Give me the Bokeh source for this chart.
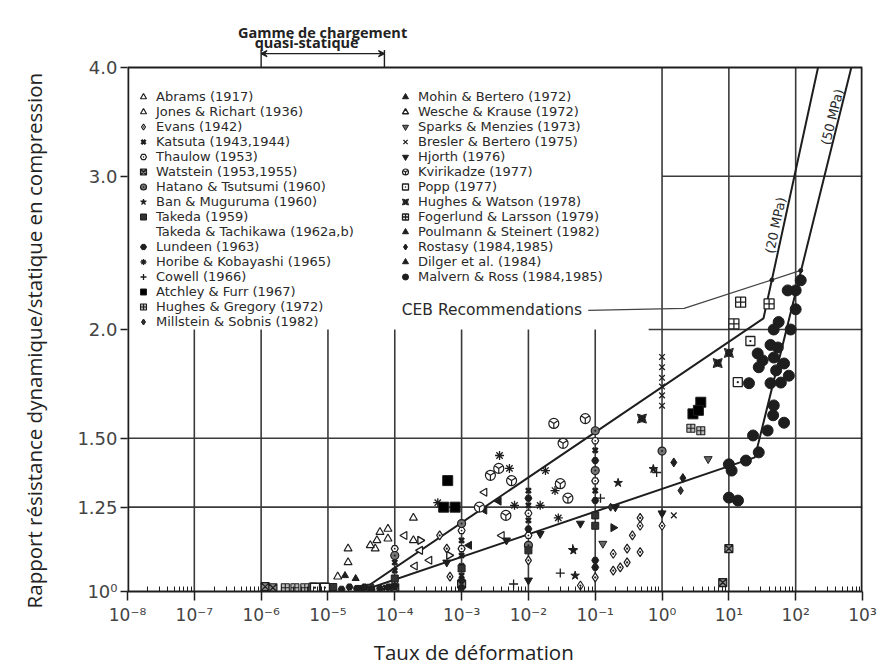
import numpy as np
from bokeh.plotting import figure
from bokeh.models import Range1d, FixedTicker, Legend, LegendItem, Label, Arrow, VeeHead
from bokeh.embed import file_html
from bokeh.resources import INLINE

# ---------------- axes ----------------
x_decades = [1e-8, 1e-7, 1e-6, 1e-5, 1e-4, 1e-3, 1e-2, 1e-1, 1e0, 1e1, 1e2, 1e3]
x_tick_labels = ["10⁻⁸", "10⁻⁷", "10⁻⁶", "10⁻⁵", "10⁻⁴", "10⁻³", "10⁻²", "10⁻¹",
                 "10⁰", "10¹", "10²", "10³"]
y_ticks = [1.0, 1.25, 1.5, 2.0, 3.0, 4.0]
y_tick_labels = ["10⁰", "1.25", "1.50", "2.0", "3.0", "4.0"]

# ---------------- CEB curves ----------------
ceb20_rate = [3e-5, 33.0, 216.0]
ceb20_ratio = [1.0, 2.06, 4.0]
ceb50_rate = [3e-5, 24.5, 680.0]
ceb50_ratio = [1.0, 1.426, 4.0]
leader_rate = [0.0786, 2.14, 119.0]
leader_ratio = [2.104, 2.115, 2.338]
leader_dot_rate = [44.0, 119.0]
leader_dot_ratio = [2.28, 2.338]
quasi_static_range = [1e-6, 7e-5]

# ---------------- experimental data ----------------
abrams_rate = [2.0e-5, 2.0e-5, 1.4e-5, 6.0e-5, 7.9e-5, 7.9e-5, 5.4e-5, 1.9e-4, 1.9e-4, 5.1e-5, 4.3e-5]
abrams_ratio = [1.12, 1.08, 1.04, 1.17, 1.18, 1.15, 1.145, 1.215, 1.145, 1.12, 1.13]
jones_rate = [2.4e-4, 3.3e-4, 2.0e-4, 1.4e-4, 2.2e-3, 4.0e-3]
jones_ratio = [1.115, 1.086, 1.07, 1.16, 1.30, 1.16]
evans_rate = [4.7e-4, 6.0e-4, 6.7e-4, 0.186, 0.237, 0.186, 0.30, 0.30, 0.36, 0.47, 0.47, 0.47,
              1.0e-4, 6.0e-2, 0.1, 1.0, 1.0e-2]
evans_ratio = [1.16, 1.12, 1.04, 1.105, 1.066, 1.057, 1.08, 1.12, 1.16, 1.19, 1.215, 1.11,
               1.025, 1.016, 1.038, 1.19, 1.086]
katsuta_rate = [1e-4, 1e-4, 1e-3, 1e-3, 1e-3, 1e-3, 1e-2, 1e-2, 1e-2, 0.1, 0.1, 7.3e-5]
katsuta_ratio = [1.08, 1.057, 1.145, 1.10, 1.07, 1.043, 1.306, 1.256, 1.207, 1.453, 1.306, 1.01]
thaulow_rate = [1e-3, 1e-3, 1e-2, 1e-2, 1e-4, 0.1, 0.1]
thaulow_ratio = [1.175, 1.12, 1.23, 1.16, 1.12, 1.49, 1.34]
watstein_rate = [1.15e-6, 1.5e-6, 1e-4, 1e-3, 10.0, 8.1]
watstein_ratio = [1.013, 1.01, 1.01, 1.02, 1.12, 1.024]
hatano_rate = [1e-4, 1e-3, 1e-2, 0.1, 0.1, 1.0]
hatano_ratio = [1.10, 1.197, 1.13, 1.377, 1.53, 1.45]
ban_rate = [0.22, 4.7e-2, 0.74, 5e-2]
ban_ratio = [1.333, 1.115, 1.383, 1.043]
takeda_rate = [1e-4, 1e-3, 1e-2, 0.1, 0.1, 4.3e-5, 1.2e-5]
takeda_ratio = [1.035, 1.063, 1.115, 1.223, 1.19, 1.01, 1.012]
lundeen_rate = [1e-4, 1e-3, 1e-3, 0.1, 0.1, 3e-5, 6e-5, 0.1, 0.1, 1e-2, 1e-2,
                1.6e-5, 2.1e-5, 2.7e-5, 3.5e-5, 4.5e-5, 8e-5]
lundeen_ratio = [1.013, 1.01, 1.03, 1.086, 1.066, 1.008, 1.008, 1.414, 1.272, 1.28, 1.18,
                 1.006, 1.012, 1.008, 1.012, 1.006, 1.012]
horibe_rate = [3.7e-3, 5.2e-3, 1.8e-2, 2.5e-2, 1.5e-2, 6.2e-3, 2.8e-2, 4.4e-4]
horibe_ratio = [1.433, 1.385, 1.377, 1.306, 1.256, 1.256, 1.215, 1.265]
cowell_rate = [4.6e-2, 0.12, 0.83, 6e-3, 3e-2]
cowell_ratio = [1.12, 1.28, 1.37, 1.02, 1.05]
atchley_rate = [6.2e-4, 8.0e-4, 5.4e-4, 3.8, 2.9, 3.5]
atchley_ratio = [1.341, 1.25, 1.25, 1.65, 1.60, 1.615]
hgregory_rate = [2.3e-6, 3.2e-6, 4.5e-6, 6.0e-6, 8.5e-6, 2.7, 3.8]
hgregory_ratio = [1.01, 1.01, 1.01, 1.012, 1.012, 1.54, 1.53]
millstein_rate = [0.17, 1.0, 1.9]
millstein_ratio = [1.25, 1.23, 1.306]
mohin_rate = [1.3e-3, 2.2e-3, 3.6e-3]
mohin_ratio = [1.13, 1.24, 1.27]
wesche_rate = [2.4e-4, 6.5e-4]
wesche_ratio = [1.145, 1.10]
sparks_rate = [0.13, 4.9]
sparks_ratio = [1.135, 1.42]
bresler_rate = [1.0, 1.0, 1.0, 1.0, 1.0, 1.5, 1.0]
bresler_ratio = [1.86, 1.81, 1.76, 1.72, 1.68, 1.223, 1.635]
hjorth_rate = [6e-2, 1.5e-2, 4.7e-3, 6e-4, 1e-2, 0.2, 1.0]
hjorth_ratio = [1.197, 1.165, 1.145, 1.08, 1.03, 1.25, 1.23]
kvirikadze_rate = [2.4e-2, 7.1e-2, 3.3e-2, 5.6e-3, 3.0e-2, 3.9e-2, 4.6e-3, 1.85e-3, 3.6e-3, 2.7e-3]
kvirikadze_ratio = [1.56, 1.58, 1.48, 1.341, 1.33, 1.28, 1.223, 1.25, 1.385, 1.36]
popp_rate = [13.6, 21.0, 6.4e-6, 9e-6]
popp_ratio = [1.74, 1.94, 1.01, 1.01]
hwatson_rate = [0.5, 6.8, 10.0]
hwatson_ratio = [1.58, 1.83, 1.88]
fogerlund_rate = [15.0, 11.9, 40.0]
fogerlund_ratio = [2.15, 2.03, 2.14]
poulmann_rate = [0.186]
poulmann_ratio = [1.184]
rostasy_rate = [1.5, 2.05]
rostasy_ratio = [1.407, 1.35]
dilger_rate = [1.8e-5, 2.6e-5]
dilger_ratio = [1.043, 1.035]
malvern_rate = [119, 76, 100, 100, 55.6, 46.9, 84, 42, 54, 27, 32, 47, 67, 28, 51, 79, 42, 60,
                20, 47, 46, 67, 38, 23, 28, 18, 10, 11, 10, 13.7]
malvern_ratio = [2.278, 2.218, 2.218, 2.11, 2.04, 2.0, 2.0, 1.92, 1.907, 1.877, 1.843, 1.857,
                 1.828, 1.81, 1.795, 1.77, 1.735, 1.738, 1.735, 1.636, 1.594, 1.563, 1.531,
                 1.511, 1.445, 1.414, 1.40, 1.377, 1.282, 1.272]

INK = "#1e1e1e"
GRID = "#3a3a3a"
TXT = "#2a2a2a"

# label, rate, ratio, marker, fill, size, angle, line_width
left_series = [
    ("Abrams (1917)", abrams_rate, abrams_ratio, "triangle", "white", 8, 0, 1.2),
    ("Jones & Richart (1936)", jones_rate, jones_ratio, "triangle", "white", 8, np.pi / 2, 1.2),
    ("Evans (1942)", evans_rate, evans_ratio, "diamond_dot", "white", 9, 0, 1.2),
    ("Katsuta (1943,1944)", katsuta_rate, katsuta_ratio, "x", INK, 7, 0, 2.6),
    ("Thaulow (1953)", thaulow_rate, thaulow_ratio, "hex_dot", "white", 7, 0, 1.2),
    ("Watstein (1953,1955)", watstein_rate, watstein_ratio, "square_x", "#888888", 8, 0, 1.2),
    ("Hatano & Tsutsumi (1960)", hatano_rate, hatano_ratio, "circle_dot", "#777777", 8, 0, 1.2),
    ("Ban & Muguruma (1960)", ban_rate, ban_ratio, "star", INK, 9, 0, 1.0),
    ("Takeda (1959)", takeda_rate, takeda_ratio, "square", "#333333", 7, 0, 1.0),
    ("Takeda & Tachikawa (1962a,b)", [], [], "dot", "white", 1, 0, 0.0),
    ("Lundeen (1963)", lundeen_rate, lundeen_ratio, "hex", INK, 7, 0, 1.0),
    ("Horibe & Kobayashi (1965)", horibe_rate, horibe_ratio, "asterisk", "white", 9, 0, 1.3),
    ("Cowell (1966)", cowell_rate, cowell_ratio, "cross", "white", 9, 0, 1.3),
    ("Atchley & Furr (1967)", atchley_rate, atchley_ratio, "square", "#000000", 10, 0, 1.0),
    ("Hughes & Gregory (1972)", hgregory_rate, hgregory_ratio, "square_cross", "#bbbbbb", 8, 0, 1.1),
    ("Millstein & Sobnis (1982)", millstein_rate, millstein_ratio, "diamond", "#333333", 8, 0, 1.0),
]
right_series = [
    ("Mohin & Bertero (1972)", mohin_rate, mohin_ratio, "triangle", INK, 8, np.pi / 2, 1.0),
    ("Wesche & Krause (1972)", wesche_rate, wesche_ratio, "triangle", "white", 8, -np.pi / 2, 1.4),
    ("Sparks & Menzies (1973)", sparks_rate, sparks_ratio, "inverted_triangle", "#666666", 8, 0, 1.0),
    ("Bresler & Bertero (1975)", bresler_rate, bresler_ratio, "x", "white", 8, 0, 1.3),
    ("Hjorth (1976)", hjorth_rate, hjorth_ratio, "inverted_triangle", INK, 8, 0, 1.0),
    ("Kvirikadze (1977)", kvirikadze_rate, kvirikadze_ratio, "circle_y", "white", 10, 0, 1.2),
    ("Popp (1977)", popp_rate, popp_ratio, "square_dot", "white", 9, 0, 1.3),
    ("Hughes & Watson (1978)", hwatson_rate, hwatson_ratio, "square_pin", INK, 9, 0, 1.0),
    ("Fogerlund & Larsson (1979)", fogerlund_rate, fogerlund_ratio, "square_cross", "white", 10, 0, 1.3),
    ("Poulmann & Steinert (1982)", poulmann_rate, poulmann_ratio, "triangle", INK, 8, -np.pi / 2, 1.0),
    ("Rostasy (1984,1985)", rostasy_rate, rostasy_ratio, "diamond", INK, 9, 0, 1.0),
    ("Dilger et al. (1984)", dilger_rate, dilger_ratio, "triangle", INK, 7, 0, 1.0),
    ("Malvern & Ross (1984,1985)", malvern_rate, malvern_ratio, "circle", INK, 11, 0, 1.0),
]

# The frame extends above 4.0 so that the "quasi-static" bracket (drawn above the
# top border in the original) can be drawn without being clipped.
y_top = y_ticks[-1] * 10 ** (47 / 870)

p = figure(width=886, height=668, x_axis_type="log", y_axis_type="log",
           x_range=Range1d(x_decades[0], x_decades[-1]), y_range=Range1d(y_ticks[0], y_top),
           output_backend="svg", toolbar_location=None,
           min_border_left=127, min_border_right=24, min_border_top=20, min_border_bottom=77)
p.background_fill_color = "white"
p.border_fill_color = "white"
p.outline_line_color = None
p.xgrid.visible = False
p.ygrid.visible = False

# ---- custom partial grid and box (as in the original figure) ----
vshort = x_decades[1:8]
vfull = x_decades[8:11]
p.segment(x0=vshort, y0=[y_ticks[0]] * len(vshort), x1=vshort, y1=[y_ticks[3]] * len(vshort),
          line_color=GRID, line_width=1.6)
p.segment(x0=vfull, y0=[y_ticks[0]] * len(vfull), x1=vfull, y1=[y_ticks[-1]] * len(vfull),
          line_color=GRID, line_width=1.6)
h_y = [y_ticks[1], y_ticks[2], y_ticks[3], y_ticks[4]]
h_x0 = [x_decades[0], x_decades[0], 0.63, x_decades[8]]
h_x1 = [x_decades[-1]] * 4
p.segment(x0=h_x0, y0=h_y, x1=h_x1, y1=h_y, line_color=GRID, line_width=1.6)
# frame: top border at 4.0, right border at 10^3, left axis line
p.segment(x0=[x_decades[0]], y0=[y_ticks[-1]], x1=[x_decades[-1]], y1=[y_ticks[-1]],
          line_color=INK, line_width=2)
p.segment(x0=[x_decades[-1], x_decades[0]], y0=[y_ticks[0]] * 2,
          x1=[x_decades[-1], x_decades[0]], y1=[y_ticks[-1]] * 2,
          line_color=INK, line_width=3.5)

# ---- axes styling ----
for ax in (p.xaxis[0], p.yaxis[0]):
    ax.major_tick_line_color = INK
    ax.major_tick_line_width = 1.5
    ax.major_label_text_font = "DejaVu Sans"
    ax.major_label_text_color = "#444444"
    ax.axis_label_text_font = "Open Sans"
    ax.axis_label_text_font_size = "20.5px"
    ax.axis_label_text_font_style = "normal"
    ax.axis_label_text_color = "#222222"

p.xaxis.axis_line_color = INK
p.xaxis.axis_line_width = 2
minor = [m * d for d in x_decades[:-1] for m in range(2, 10)]
p.xaxis.ticker = FixedTicker(ticks=x_decades, minor_ticks=minor)
p.xaxis.major_label_overrides = {t: s for t, s in zip(x_decades, x_tick_labels)}
p.xaxis.major_label_text_font_size = "17px"
p.xaxis.major_tick_in = 0
p.xaxis.major_tick_out = 9
p.xaxis.minor_tick_in = 5
p.xaxis.minor_tick_out = 0
p.xaxis.minor_tick_line_color = INK
p.xaxis.major_label_standoff = 4
p.xaxis.axis_label = "Taux de déformation" + "\u00a0" * 8
p.xaxis.axis_label_standoff = 10

p.yaxis.axis_line_color = None
p.yaxis.ticker = FixedTicker(ticks=y_ticks)
p.yaxis.major_label_overrides = {t: s for t, s in zip(y_ticks, y_tick_labels)}
p.yaxis.major_label_text_font_size = "18px"
p.yaxis.major_tick_in = 0
p.yaxis.major_tick_out = 7
p.yaxis.minor_tick_line_color = None
p.yaxis.major_label_standoff = 3
p.yaxis.axis_label = "Rapport résistance dynamique/statique en compression" + "\u00a0" * 13
p.yaxis.axis_label_standoff = 26

# ---- CEB curves ----
p.line(ceb20_rate, ceb20_ratio, line_color=INK, line_width=2)
p.line(ceb50_rate, ceb50_ratio, line_color=INK, line_width=2)
p.line(leader_rate, leader_ratio, line_color="#444444", line_width=1.3)
p.scatter(leader_dot_rate, leader_dot_ratio, marker="circle", size=4, color=INK)

# ---- data ----
def add_series(series):
    items = []
    for label, xs, ys, marker, fill, size, ang, lw in series:
        if len(xs) == 0:
            r = p.scatter(x=[], y=[], marker="dot", size=1, fill_alpha=0, line_alpha=0)
        else:
            r = p.scatter(x=xs, y=ys, marker=marker, size=size, angle=ang,
                          fill_color=fill, line_color=INK, line_width=lw)
        items.append(LegendItem(label=label, renderers=[r]))
    return items

left_items = add_series(left_series)
right_items = add_series(right_series)

def make_legend(items, loc):
    return Legend(items=items, location=loc, orientation="vertical",
                  background_fill_alpha=0, border_line_alpha=0,
                  label_text_font="DejaVu Sans", label_text_font_size="13px",
                  label_text_color=TXT, glyph_width=16, glyph_height=15,
                  label_height=15, spacing=0, padding=0, margin=0, label_standoff=5)

# location = bottom-left corner of each legend block, relative to the frame
p.add_layout(make_legend(left_items, (8, 262)))
p.add_layout(make_legend(right_items, (270, 307)))

# ---- texts ----
p.add_layout(Label(x=0.0638, y=2.104, text="CEB Recommendations", text_align="right",
                   text_baseline="middle", text_font="DejaVu Sans", text_font_size="15.5px",
                   text_color=TXT))
p.add_layout(Label(x=50.0, y=2.635, text="(20 MPa)", angle=1.361, text_align="center",
                   text_baseline="middle", text_font="DejaVu Sans", text_font_size="13px",
                   text_color=TXT))
p.add_layout(Label(x=354.0, y=3.51, text="(50 MPa)", angle=1.328, text_align="center",
                   text_baseline="middle", text_font="DejaVu Sans", text_font_size="13px",
                   text_color=TXT))
p.add_layout(Label(x=8.3e-6, y=4.39, text="Gamme de chargement", text_align="center",
                   text_baseline="middle", text_font="Open Sans", text_font_size="14.5px",
                   text_font_style="bold", text_color="#222222"))
p.add_layout(Label(x=4.8e-6, y=4.27, text="quasi-statique", text_align="center",
                   text_baseline="middle", text_font="Open Sans", text_font_size="14.5px",
                   text_font_style="bold", text_color="#222222"))

# quasi-static bracket
qs0, qs1 = quasi_static_range
p.add_layout(Arrow(x_start=qs0, y_start=4.15, x_end=qs1, y_end=4.15,
                   start=VeeHead(size=6, line_color=INK, line_width=1.2, fill_color=INK),
                   end=VeeHead(size=6, line_color=INK, line_width=1.2, fill_color=INK),
                   line_color=INK, line_width=1.4))
p.segment(x0=quasi_static_range, y0=[y_ticks[-1]] * 2, x1=quasi_static_range, y1=[4.19] * 2,
          line_color=INK, line_width=1.4)

open("out.html", "w").write(file_html(p, INLINE))
